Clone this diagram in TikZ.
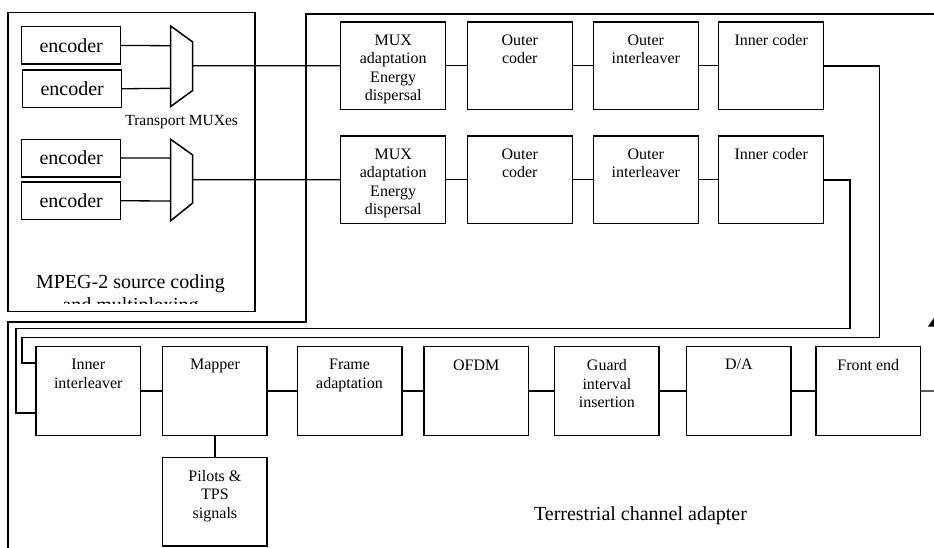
\documentclass[tikz,border=0pt]{standalone}
\usepackage{fontspec}
\setmainfont{Liberation Serif}
\begin{document}
\begin{tikzpicture}[x=1pt,y=-1pt,
  box/.style={draw, line width=1.5pt, inner sep=0pt, outer sep=0pt, anchor=north west},
  cbox/.style={box, minimum width=105pt, minimum height=87.5pt},
  tbox/.style={box, minimum width=104.5pt, minimum height=88.6pt},
  ebox/.style={box, minimum width=99pt, minimum height=37.5pt, font=\fontsize{20}{23}\selectfont},
  lbl/.style={inner sep=0pt, anchor=north, align=center, font=\fontsize{16}{18.5}\selectfont, yshift=-12.5pt},
  big/.style={inner sep=0pt, font=\fontsize{20}{23}\selectfont},
  wire/.style={line width=1.3pt},
  frame/.style={line width=1.6pt},
  mux/.style={line width=1.5pt, line join=miter}
]
\clip (0,0) rectangle (934,547);

% MPEG-2 source coding block
\node[box, minimum width=247pt, minimum height=299pt] (mpeg) at (8,12.7) {};
\node[ebox] (enc1) at (21.7,26.7) {encoder};
\node[ebox] (enc2) at (22.7,70) {encoder};
\node[ebox] (enc3) at (21.7,139.3) {encoder};
\node[ebox] (enc4) at (21.7,182) {encoder};
\draw[mux] (170.7,26) -- (192.7,42) -- (192.7,90.5) -- (170.7,106.5) -- cycle;
\draw[mux] (170.7,139.3) -- (192.7,155) -- (192.7,203) -- (170.7,220.7) -- cycle;
\coordinate (m1a) at (170.7,45.7);
\coordinate (m1b) at (170.7,88.3);
\coordinate (m1o) at (192.7,65.8);
\coordinate (m2a) at (170.7,158);
\coordinate (m2b) at (170.7,201);
\coordinate (m2o) at (192.7,179.8);
\node[inner sep=0pt, font=\fontsize{15.5}{18}\selectfont] (tmux) at (181.7,122.3) {Transport MUXes};
\node[big, anchor=base] (mpegt) at (130.5,288.3) {MPEG-2 source coding};
\begin{scope}
  \clip (10,250) rectangle (253,303);
  \node[big, anchor=base] (mpegt2) at (130.5,311.3) {and multiplexing};
\end{scope}

% outer frame of the transmitter
\draw[frame] (945,14) -- (306,14) -- (306,321.7) -- (8,321.7) -- (8,560);

% channel coding rows
\node[cbox] (mux1) at (340.7,22) {};
\node[cbox] (oc1) at (467.3,22) {};
\node[cbox] (oi1) at (593.3,22) {};
\node[cbox] (ic1) at (718.7,22) {};
\node[cbox] (mux2) at (340.7,136) {};
\node[cbox] (oc2) at (467.3,136) {};
\node[cbox] (oi2) at (593.3,136) {};
\node[cbox] (ic2) at (718.7,136) {};
\node[lbl] (mux1t) at (mux1.north) {MUX\\adaptation\\Energy\\dispersal};
\node[lbl] (oc1t) at (oc1.north) {Outer\\coder};
\node[lbl] (oi1t) at (oi1.north) {Outer\\interleaver};
\node[lbl] (ic1t) at (ic1.north) {Inner coder};
\node[lbl] (mux2t) at (mux2.north) {MUX\\adaptation\\Energy\\dispersal};
\node[lbl] (oc2t) at (oc2.north) {Outer\\coder};
\node[lbl] (oi2t) at (oi2.north) {Outer\\interleaver};
\node[lbl] (ic2t) at (ic2.north) {Inner coder};

% terrestrial row
\node[tbox] (ii) at (36,346.7) {};
\node[tbox] (map) at (162.7,346.7) {};
\node[tbox] (fa) at (297.3,346.7) {};
\node[tbox] (ofdm) at (424,346.7) {};
\node[tbox] (gi) at (554.7,346.7) {};
\node[tbox] (da) at (686.7,346.7) {};
\node[tbox] (fe) at (816,346.7) {};
\node[tbox] (pil) at (162.7,457.3) {};
\node[lbl] (iit) at (ii.north) {Inner\\interleaver};
\node[lbl] (mapt) at (map.north) {Mapper};
\node[lbl] (fat) at (fa.north) {Frame\\adaptation};
\node[lbl] (ofdmt) at (ofdm.north) {OFDM};
\node[lbl] (git) at (gi.north) {Guard\\interval\\insertion};
\node[lbl] (dat) at (da.north) {D/A};
\node[lbl] (fet) at (fe.north) {Front end};
\node[lbl] (pilt) at (pil.north) {Pilots \&\\TPS\\signals};
\node[big] (tca) at (640.5,516) {Terrestrial channel adapter};

\coordinate (iia) at (36,362.7);
\coordinate (iib) at (36,412.7);
\coordinate (feo) at (945,390.9);

% connectors
\draw[wire] (enc1.east) -- (m1a);
\draw[wire] (enc2.east) -- (m1b);
\draw[wire] (enc3.east) -- (m2a);
\draw[wire] (enc4.east) -- (m2b);
\draw[wire] (m1o) -- (mux1.west);
\draw[wire] (m2o) -- (mux2.west);
\draw[wire] (mux1) -- (oc1);
\draw[wire] (oc1) -- (oi1);
\draw[wire] (oi1) -- (ic1);
\draw[wire] (mux2) -- (oc2);
\draw[wire] (oc2) -- (oi2);
\draw[wire] (oi2) -- (ic2);
\draw[frame] (ic1.east) -| (879.3,337.3) -- (22,337.3) |- (iia);
\draw[frame] (ic2.east) -| (850,328.3) -- (16,328.3) |- (iib);
\draw[wire] (ii) -- (map);
\draw[wire] (map) -- (fa);
\draw[wire] (fa) -- (ofdm);
\draw[wire] (ofdm) -- (gi);
\draw[wire] (gi) -- (da);
\draw[wire] (da) -- (fe);
\draw[wire] (fe.east) -- (feo);
\draw[frame] (map.south) -- (pil.north);

% antenna arrow tip at the right edge
\fill (928,326.5) -- (942,326.5) -- (936,315) -- cycle;
\end{tikzpicture}
\end{document}
